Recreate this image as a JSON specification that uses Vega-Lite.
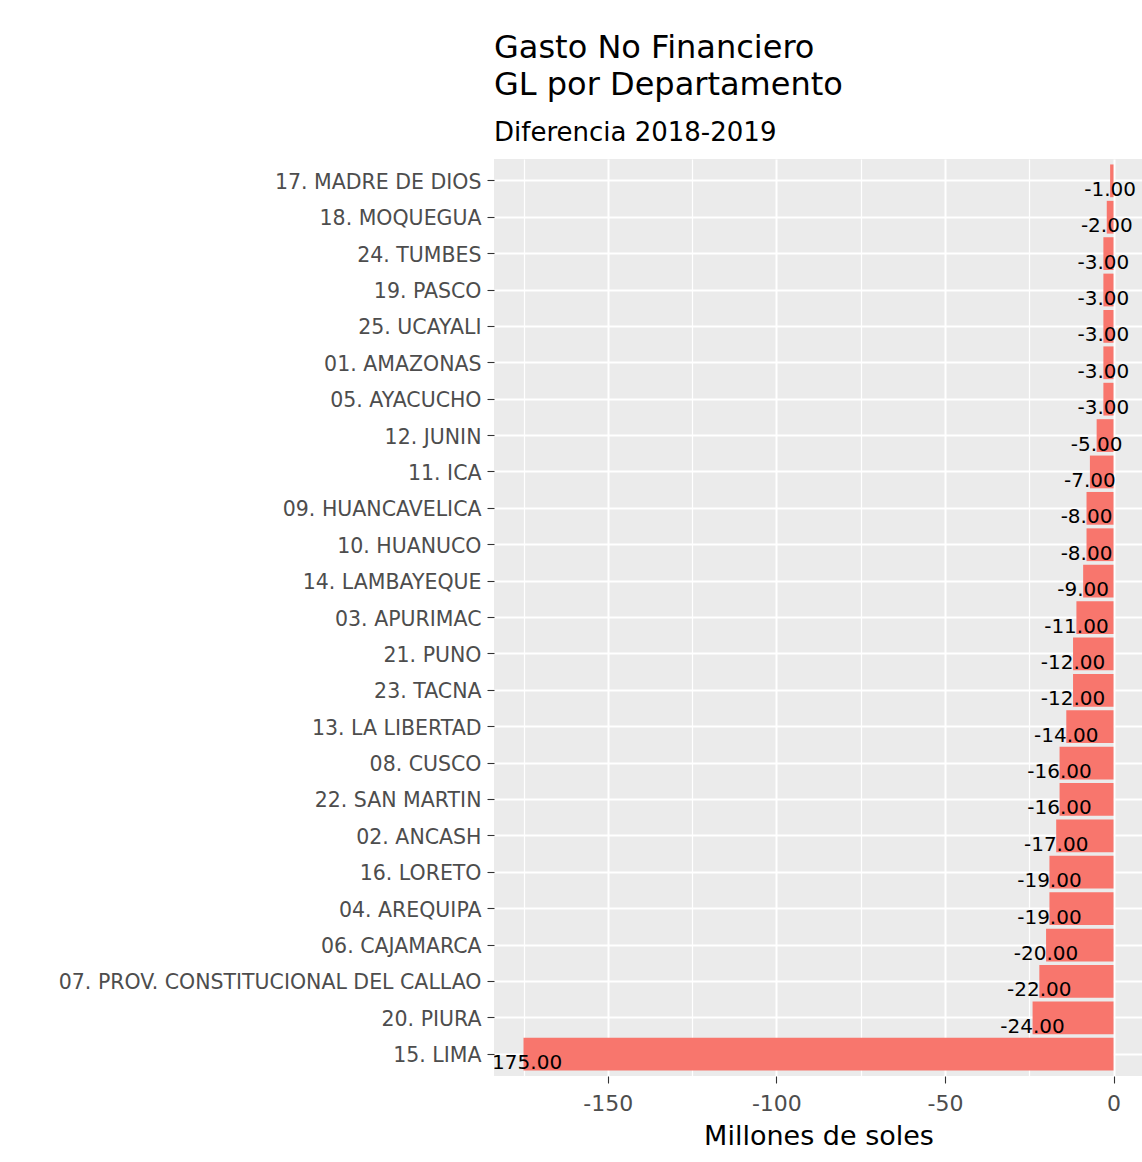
{
  "$schema": "https://vega.github.io/schema/vega-lite/v6.json",
  "width": 649,
  "height": 917,
  "autosize": {"type": "none"},
  "padding": {"left": 494, "top": 159, "right": 0, "bottom": 86},
  "background": "white",
  "title": {
    "text": ["Gasto No Financiero", "GL por Departamento"],
    "subtitle": "Diferencia 2018-2019",
    "anchor": "start",
    "frame": "group",
    "font": "DejaVu Sans",
    "fontSize": 32,
    "fontWeight": "normal",
    "color": "black",
    "lineHeight": 37.5,
    "subtitleFont": "DejaVu Sans",
    "subtitleFontSize": 26,
    "subtitleColor": "black",
    "subtitlePadding": 18,
    "offset": 12
  },
  "data": {
    "values": [
      {"departamento": "17. MADRE DE DIOS", "diferencia": -1},
      {"departamento": "18. MOQUEGUA", "diferencia": -2},
      {"departamento": "24. TUMBES", "diferencia": -3},
      {"departamento": "19. PASCO", "diferencia": -3},
      {"departamento": "25. UCAYALI", "diferencia": -3},
      {"departamento": "01. AMAZONAS", "diferencia": -3},
      {"departamento": "05. AYACUCHO", "diferencia": -3},
      {"departamento": "12. JUNIN", "diferencia": -5},
      {"departamento": "11. ICA", "diferencia": -7},
      {"departamento": "09. HUANCAVELICA", "diferencia": -8},
      {"departamento": "10. HUANUCO", "diferencia": -8},
      {"departamento": "14. LAMBAYEQUE", "diferencia": -9},
      {"departamento": "03. APURIMAC", "diferencia": -11},
      {"departamento": "21. PUNO", "diferencia": -12},
      {"departamento": "23. TACNA", "diferencia": -12},
      {"departamento": "13. LA LIBERTAD", "diferencia": -14},
      {"departamento": "08. CUSCO", "diferencia": -16},
      {"departamento": "22. SAN MARTIN", "diferencia": -16},
      {"departamento": "02. ANCASH", "diferencia": -17},
      {"departamento": "16. LORETO", "diferencia": -19},
      {"departamento": "04. AREQUIPA", "diferencia": -19},
      {"departamento": "06. CAJAMARCA", "diferencia": -20},
      {"departamento": "07. PROV. CONSTITUCIONAL DEL CALLAO", "diferencia": -22},
      {"departamento": "20. PIURA", "diferencia": -24},
      {"departamento": "15. LIMA", "diferencia": -175}
    ]
  },
  "encoding": {
    "y": {
      "field": "departamento",
      "type": "nominal",
      "sort": null,
      "scale": {"paddingInner": 0.1, "paddingOuter": 0.15},
      "axis": {
        "title": null,
        "domain": false,
        "ticks": true,
        "tickSize": 7,
        "tickColor": "#333333",
        "tickWidth": 1.1,
        "labelFont": "DejaVu Sans",
        "labelFontSize": 20.5,
        "labelColor": "#4D4D4D",
        "labelPadding": 6,
        "labelOffset": 2,
        "labelLimit": 0,
        "labelOverlap": false,
        "grid": true,
        "gridColor": "white",
        "gridWidth": 2,
        "bandPosition": 0.5
      }
    }
  },
  "layer": [
    {
      "mark": {"type": "bar", "color": "#F8766D"},
      "encoding": {
        "x": {
          "field": "diferencia",
          "type": "quantitative",
          "scale": {"domain": [-183.75, 8.75], "nice": false, "zero": false},
          "axis": {
            "title": "Millones de soles",
            "titleFont": "DejaVu Sans",
            "titleFontSize": 27,
            "titleFontWeight": "normal",
            "titleColor": "black",
            "titleBaseline": "top",
            "titleY": 47,
            "values": [-175, -150, -125, -100, -75, -50, -25, 0],
            "labelExpr": "datum.value % 50 === 0 ? datum.label : ''",
            "labelFont": "DejaVu Sans",
            "labelFontSize": 22,
            "labelColor": "#4D4D4D",
            "labelPadding": 10,
            "labelFlush": false,
            "labelOverlap": false,
            "domain": false,
            "tickSize": 7,
            "tickWidth": 1.1,
            "tickColor": {"condition": {"test": "datum.value % 50 !== 0", "value": "transparent"}, "value": "#333333"},
            "grid": true,
            "gridColor": "white",
            "gridWidth": {"condition": {"test": "datum.value % 50 !== 0", "value": 1.2}, "value": 2}
          }
        }
      }
    },
    {
      "mark": {"type": "text", "clip": true, "baseline": "alphabetic", "dy": 15, "fontSize": 20, "font": "DejaVu Sans", "color": "black"},
      "encoding": {
        "x": {"field": "diferencia", "type": "quantitative"},
        "text": {"field": "diferencia", "type": "quantitative", "format": ".2f"}
      }
    }
  ],
  "config": {
    "view": {"stroke": null, "fill": "#EBEBEB"},
    "axis": {"domain": false},
    "locale": {
      "number": {"decimal": ".", "thousands": ",", "grouping": [3], "currency": ["$", ""], "minus": "-"}
    }
  }
}
